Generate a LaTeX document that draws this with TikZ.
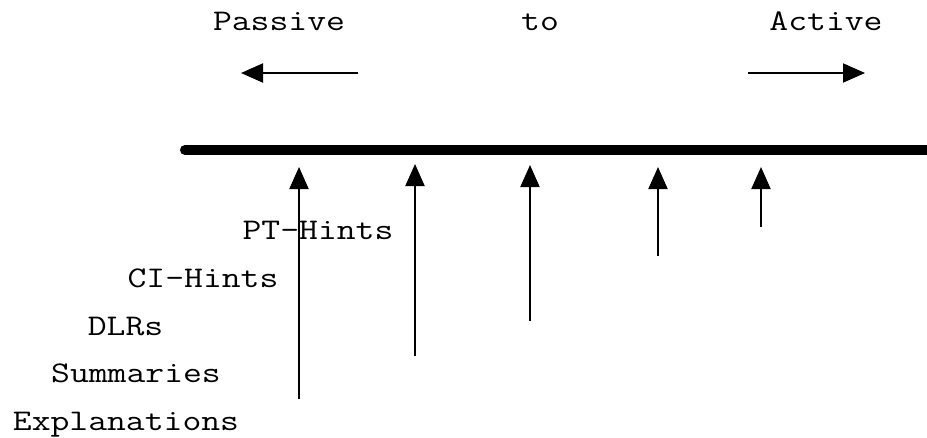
\documentclass[tikz,border=0pt]{standalone}
\usepackage{fontspec}
\usetikzlibrary{arrows.meta}
% widen the typewriter face to a Courier-like 0.6em advance
\newcommand{\widett}[1]{\scalebox{1.22}[1]{#1}}
\begin{document}
\begin{tikzpicture}[x=1pt,y=-1pt,
  lbl/.style={inner sep=0pt,anchor=base,font=\ttfamily\fontsize{30}{36}\selectfont},
  pointer/.style={line width=2pt,-{Triangle[length=22pt,width=19pt]}},
  axisbar/.style={line width=10pt,line cap=round}]
  \useasboundingbox (0,0) rectangle (927,437);
  \clip (0,0) rectangle (927,437);

  % heading words
  \node[lbl] (passive) at (279,30) {\widett{Passive}};
  \node[lbl] (to)      at (540,30) {\widett{to}};
  \node[lbl] (active)  at (826,30) {\widett{Active}};

  % direction arrows
  \coordinate (lfrom) at (358,73);
  \coordinate (lto)   at (241,73);
  \coordinate (rfrom) at (748,73);
  \coordinate (rto)   at (865,73);
  \draw[pointer] (lfrom) -- (lto);
  \draw[pointer] (rfrom) -- (rto);

  % the scale
  \coordinate (s0) at (185,150);
  \coordinate (s1) at (940,150);
  \draw[axisbar] (s0) -- (s1);

  % pointers onto the scale
  \coordinate (e0) at (299,399); \coordinate (e1) at (299,167);
  \coordinate (m0) at (415,356); \coordinate (m1) at (415,164);
  \coordinate (d0) at (530,321); \coordinate (d1) at (530,165);
  \coordinate (c0) at (658,256); \coordinate (c1) at (658,167);
  \coordinate (p0) at (761,227); \coordinate (p1) at (761,167);
  \draw[pointer] (e0) -- (e1);
  \draw[pointer] (m0) -- (m1);
  \draw[pointer] (d0) -- (d1);
  \draw[pointer] (c0) -- (c1);
  \draw[pointer] (p0) -- (p1);

  % labels
  \node[lbl] (pt)  at (318,239) {\widett{PT-Hints}};
  \node[lbl] (ci)  at (203,287) {\widett{CI-Hints}};
  \node[lbl] (dlr) at (125.5,335) {\widett{DLRs}};
  \node[lbl] (sum) at (136,382) {\widett{Summaries}};
  \node[lbl] (exp) at (126,430) {\widett{Explanations}};
\end{tikzpicture}
\end{document}
